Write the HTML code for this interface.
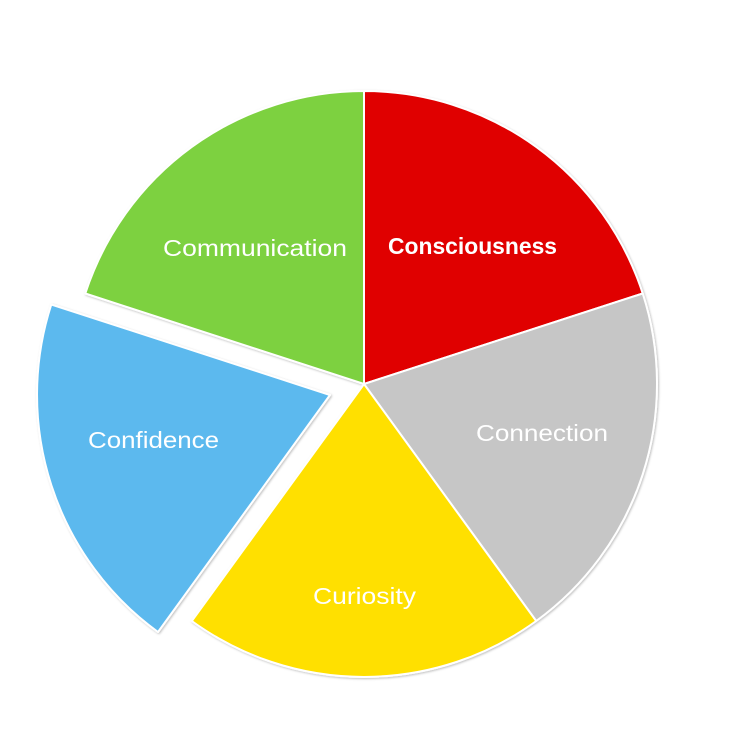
<!DOCTYPE html>
<html><head><style>html,body{margin:0;padding:0;background:#fff}svg{display:block}</style></head>
<body>
<svg width="738" height="734" viewBox="0 0 738 734" xmlns="http://www.w3.org/2000/svg">
<defs><filter id="s" x="-10%" y="-10%" width="120%" height="120%"><feDropShadow dx="1" dy="1" stdDeviation="1" flood-color="#000" flood-opacity="0.25"/></filter></defs>
<g stroke="#fff" stroke-width="2" stroke-linejoin="round" filter="url(#s)">
<path d="M364 384 L364 91 A293 293 0 0 1 642.7 293.5 Z" fill="#e00000"/>
<path d="M364 384 L642.7 293.5 A293 293 0 0 1 536.2 621 Z" fill="#c6c6c6"/>
<path d="M364 384 L536.2 621 A293 293 0 0 1 191.8 621 Z" fill="#ffe000"/>
<path d="M364 384 L85.3 293.5 A293 293 0 0 1 364 91 Z" fill="#7dd141"/>
<path d="M330 395 L158 632 A293 293 0 0 1 51.3 304.5 Z" fill="#5bb9ee"/>
</g>
<g font-family="Liberation Sans, sans-serif" font-size="23" fill="#fff">
<text x="163" y="256" textLength="184" lengthAdjust="spacingAndGlyphs">Communication</text>
<text x="388" y="254" textLength="169" lengthAdjust="spacingAndGlyphs" font-weight="bold">Consciousness</text>
<text x="476" y="441" textLength="132" lengthAdjust="spacingAndGlyphs">Connection</text>
<text x="88" y="448" textLength="131" lengthAdjust="spacingAndGlyphs">Confidence</text>
<text x="313" y="604" textLength="103" lengthAdjust="spacingAndGlyphs">Curiosity</text>
</g>
</svg>
</body></html>
